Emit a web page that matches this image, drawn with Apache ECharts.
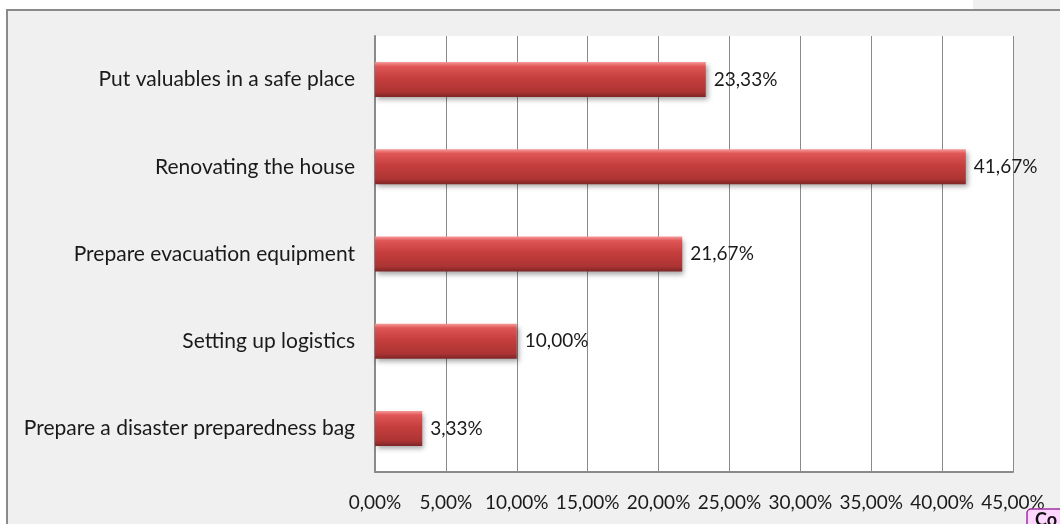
<!DOCTYPE html>
<html>
<head>
<meta charset="utf-8">
<script src="https://cdn.jsdelivr.net/npm/echarts@6/dist/echarts.min.js"></script>
<style>
  html, body { margin: 0; padding: 0; background: #fff; }
  #chart { width: 1060px; height: 524px; }
</style>
</head>
<body>
<div id="chart"></div>
<script>
// top to bottom
const categories = [
  'Put valuables in a safe place',
  'Renovating the house',
  'Prepare evacuation equipment',
  'Setting up logistics',
  'Prepare a disaster preparedness bag'
];
const shares = [23.33, 41.67, 21.67, 10.00, 3.33];

const pct = (v) => v.toFixed(2).replace('.', ',') + '%';
const font = 'Lato, "Open Sans", sans-serif';

const chart = echarts.init(document.getElementById('chart'));
chart.setOption({
  animation: false,
  backgroundColor: '#fff',
  textStyle: { fontFamily: font },
  graphic: [
    // outer chart frame
    { type: 'rect', z: -10, shape: { x: 7, y: 10, width: 1100, height: 600 },
      style: { fill: '#f0f0f0', stroke: '#8a8a8a', lineWidth: 2 } },
    { type: 'rect', z: -11, shape: { x: 973, y: 0, width: 90, height: 10 },
      style: { fill: '#f0f0f0' } },
    // clipped popup in the corner
    { type: 'rect', z: 100, shape: { x: 1027, y: 509, width: 60, height: 30, r: 4 },
      style: { fill: '#ffd6ff', stroke: '#a030a0', lineWidth: 1.5 } },
    { type: 'text', z: 101, left: 1035, top: 511,
      style: { text: 'Co', font: 'bold 18px ' + font, fill: '#111' } }
  ],
  grid: {
    left: 375, right: 47, top: 36, bottom: 52,
    show: true, backgroundColor: '#fff', borderWidth: 0
  },
  xAxis: {
    type: 'value',
    min: 0, max: 45, interval: 5,
    axisLine: { show: true, lineStyle: { color: '#8a8a8a', width: 2 } },
    axisTick: { show: false },
    splitLine: { lineStyle: { color: '#8a8a8a', width: 1 } },
    axisLabel: {
      margin: 21, fontSize: 19, color: '#1a1a1a', fontFamily: font,
      formatter: (v) => pct(v)
    }
  },
  yAxis: {
    type: 'category',
    inverse: true,
    data: categories,
    axisLine: { show: true, lineStyle: { color: '#8a8a8a', width: 2 } },
    axisTick: { show: false },
    axisLabel: { margin: 20, fontSize: 21, color: '#1a1a1a', fontFamily: font }
  },
  series: [{
    type: 'bar',
    data: shares,
    barWidth: 35,
    itemStyle: {
      color: new echarts.graphic.LinearGradient(0, 0, 0, 1, [
        { offset: 0, color: '#f69a9a' },
        { offset: 0.12, color: '#e05656' },
        { offset: 0.45, color: '#c63e3e' },
        { offset: 0.85, color: '#ad3434' },
        { offset: 1, color: '#7e2626' }
      ]),
      shadowColor: 'rgba(0,0,0,0.35)',
      shadowBlur: 5,
      shadowOffsetX: 2,
      shadowOffsetY: 3
    },
    label: {
      show: true, position: 'right', distance: 8,
      fontSize: 19, color: '#1a1a1a', fontFamily: font,
      formatter: (p) => pct(p.value)
    }
  }]
});
</script>
</body>
</html>
